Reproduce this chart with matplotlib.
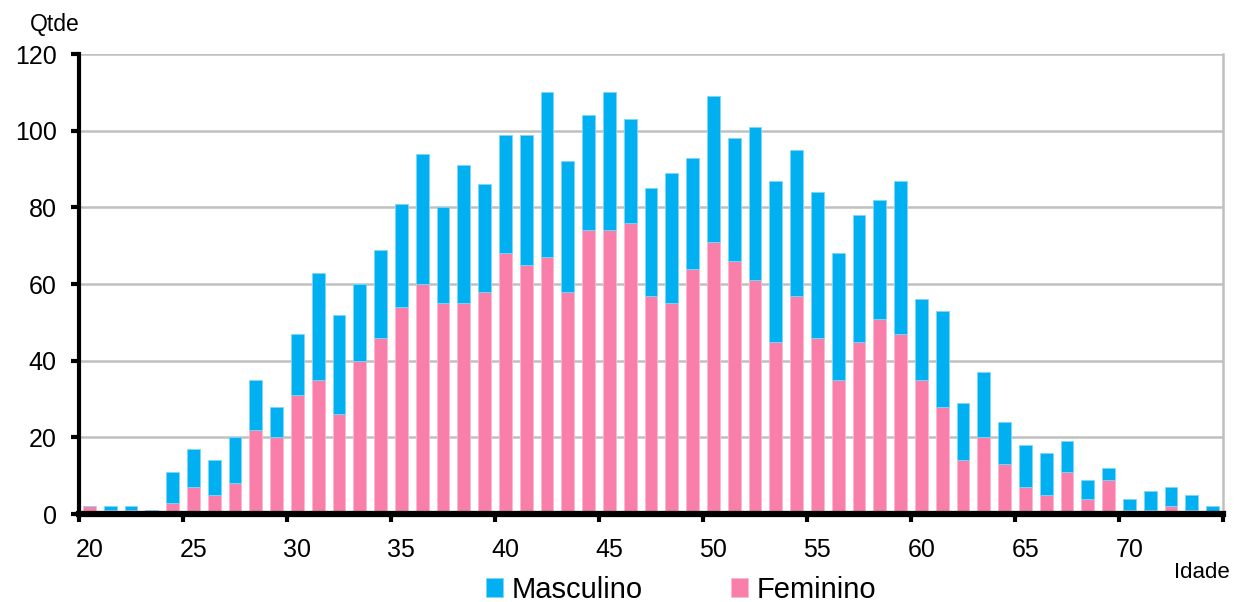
import numpy as np
import matplotlib
matplotlib.use('Agg')
import matplotlib.pyplot as plt

plt.rcParams['font.family'] = ['Liberation Sans', 'DejaVu Sans']

idade = list(range(20, 75))
feminino = [2, 1, 1, 1, 3, 7, 5, 8, 22, 20,
            31, 35, 26, 40, 46, 54, 60, 55, 55, 58,
            68, 65, 67, 58, 74, 74, 76, 57, 55, 64,
            71, 66, 61, 45, 57, 46, 35, 45, 51, 47,
            35, 28, 14, 20, 13, 7, 5, 11, 4, 9,
            1, 1, 2, 1, 0]
total = [2, 2, 2, 1, 11, 17, 14, 20, 35, 28,
         47, 63, 52, 60, 69, 81, 94, 80, 91, 86,
         99, 99, 110, 92, 104, 110, 103, 85, 89, 93,
         109, 98, 101, 87, 95, 84, 68, 78, 82, 87,
         56, 53, 29, 37, 24, 18, 16, 19, 9, 12,
         4, 6, 7, 5, 2]
masculino = [t - f for t, f in zip(total, feminino)]
rotulos_x = [20, 25, 30, 35, 40, 45, 50, 55, 60, 65, 70]

azul = '#00B0F0'
rosa = '#F97FAA'


def main():
    fig = plt.figure(figsize=(12.41, 6.02), dpi=100)
    ax = fig.add_axes([79 / 1241, 1 - 514 / 602, (1223 - 79) / 1241, (514 - 54) / 602])

    x = np.array(idade) + 0.5
    ax.bar(x, feminino, width=0.62, color=rosa, edgecolor='#FBB8CF', linewidth=0.6,
           label='Feminino', zorder=3)
    ax.bar(x, masculino, width=0.62, bottom=feminino, color=azul, edgecolor='#7FD6F7',
           linewidth=0.6, label='Masculino', zorder=3)

    ax.set_xlim(20, 75)
    ax.set_ylim(0, 120)
    ax.set_yticks(range(0, 121, 20))
    # tick marks between categories, labels centred on the category
    ax.set_xticks(list(range(20, 76, 5)))
    ax.set_xticklabels([])
    ax.set_xticks([v + 0.5 for v in rotulos_x], minor=True)
    ax.set_xticklabels([str(v) for v in rotulos_x], minor=True)
    ax.yaxis.grid(True, color='#C0C0C0', linewidth=1.8, zorder=0)
    ax.set_axisbelow(True)

    ax.spines['top'].set_visible(False)
    ax.spines['right'].set_color('#C0C0C0')
    ax.spines['right'].set_linewidth(1.8)
    ax.spines['left'].set_linewidth(3)
    ax.spines['bottom'].set_linewidth(4.5)
    ax.spines['bottom'].set_zorder(5)
    ax.tick_params(axis='y', direction='out', length=6, width=3, labelsize=18, pad=10)
    ax.tick_params(axis='x', which='major', direction='out', length=6, width=3)
    ax.tick_params(axis='x', which='minor', length=0, labelsize=18, pad=17)

    fig.text(30 / 1241, 1 - 24 / 602, 'Qtde', fontsize=16.5, va='center', ha='left')
    fig.text(1230 / 1241, 1 - 573 / 602, 'Idade', fontsize=16, va='center', ha='right')

    handles, labels = ax.get_legend_handles_labels()
    fig.legend(handles[::-1], labels[::-1], loc='center', bbox_to_anchor=(681 / 1241, 1 - 590 / 602),
               ncol=2, frameon=False, fontsize=21, handlelength=0.6, handleheight=0.6,
               handletextpad=0.3, columnspacing=3.0, borderpad=0)

    fig.savefig('out.png', dpi=100)


if __name__ == '__main__':
    main()
